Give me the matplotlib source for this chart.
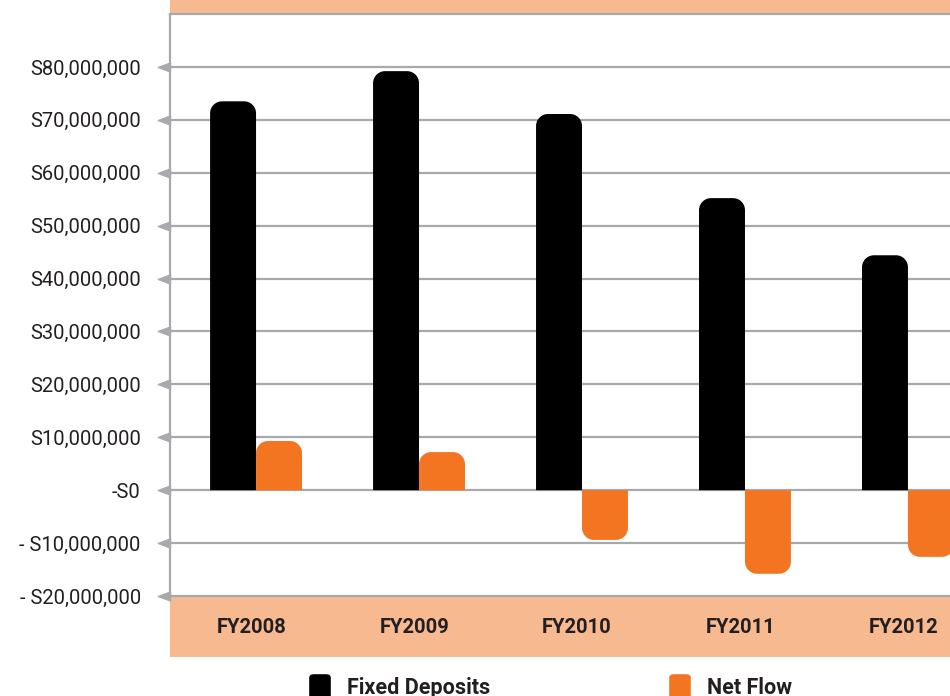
import numpy as np
import matplotlib
matplotlib.use("Agg")
import matplotlib.pyplot as plt
from matplotlib.path import Path
from matplotlib.patches import PathPatch, Rectangle, FancyBboxPatch
from matplotlib.transforms import blended_transform_factory

plt.rcParams['font.family'] = ['Roboto', 'DejaVu Sans']

# Data
years = ["FY2008", "FY2009", "FY2010", "FY2011", "FY2012"]
fixed_deposits = [73.5e6, 79.2e6, 71.1e6, 55.2e6, 44.4e6]
net_flow = [9.3e6, 7.2e6, -9.4e6, -15.8e6, -12.6e6]
ytick_values = [-20e6, -10e6, 0, 10e6, 20e6, 30e6, 40e6, 50e6, 60e6, 70e6, 80e6]
ytick_labels = ["- S20,000,000", "- S10,000,000", "-S0", "S10,000,000",
                "S20,000,000", "S30,000,000", "S40,000,000", "S50,000,000",
                "S60,000,000", "S70,000,000", "S80,000,000"]
series_names = ["Fixed Deposits", "Net Flow"]

BLACK = "#000000"
ORANGE = "#f47521"
PEACH = "#f7b990"
GRID = "#a7a9ac"
TEXT = "#231f20"

W, H = 950, 696
fig = plt.figure(figsize=(W / 100, H / 100), dpi=100)

ax_l, ax_r, ax_t, ax_b = 170, 950, 14, 596
ax = fig.add_axes([ax_l / W, 1 - ax_b / H, (ax_r - ax_l) / W, (ax_b - ax_t) / H])
ax.set_xlim(-0.528, 4.258)
ax.set_ylim(-20e6, 90e6)

for s in ["right", "bottom"]:
    ax.spines[s].set_visible(False)
ax.spines["left"].set_color(GRID)
ax.spines["left"].set_linewidth(1.6)
ax.spines["top"].set_color(GRID)
ax.spines["top"].set_linewidth(1.6)

# horizontal grid lines
for v in ytick_values:
    ax.axhline(v, color=GRID, lw=1.6, zorder=1, clip_on=False)

ax.set_yticks(ytick_values)
ax.set_yticklabels(ytick_labels, fontsize=14.5, color=TEXT)
ax.tick_params(axis="y", length=0, pad=21)

# triangular tick markers pointing left from the axis
tri = Path([(0, 0.375), (-1, 0), (0, -0.375), (0, 0.375)],
           [Path.MOVETO, Path.LINETO, Path.LINETO, Path.CLOSEPOLY])
btr = blended_transform_factory(ax.transAxes, ax.transData)
ax.plot([0] * len(ytick_values), ytick_values, linestyle="none", marker=tri,
        markersize=17.5, color=GRID, transform=btr, clip_on=False, zorder=5)

x = np.arange(len(years))
ax.set_xticks(x - 0.03)
ax.set_xticklabels(years, fontsize=14.5, fontweight="bold", color=TEXT)
ax.tick_params(axis="x", length=0, pad=16)

# peach bands above and below the plotting area
ax.add_patch(Rectangle((0, 1), 1, ax_t / (ax_b - ax_t), transform=ax.transAxes,
                       facecolor=PEACH, edgecolor="none", clip_on=False, zorder=0))
ax.add_patch(Rectangle((0, -61 / (ax_b - ax_t)), 1, 61 / (ax_b - ax_t) - 0.002,
                       transform=ax.transAxes, facecolor=PEACH, edgecolor="none",
                       clip_on=False, zorder=0))

# bars with rounded outer corners
width = 0.282
radius_px = 12
p0 = ax.transData.transform([(0, 0), (1, 1e7)])
px_x = p0[1, 0] - p0[0, 0]
px_y = (p0[1, 1] - p0[0, 1]) / 1e7
rx = radius_px / px_x
ry_base = radius_px / px_y
K = 0.5523


def rounded_bar(x0, w, v, color):
    x1 = x0 + w
    s = 1 if v >= 0 else -1
    ry = min(ry_base, abs(v))
    rrx = min(rx, w / 2)
    inner = v - s * ry
    ctrl = inner + s * K * ry
    verts = [(x0, 0), (x0, inner),
             (x0, ctrl), (x0 + rrx - K * rrx, v), (x0 + rrx, v),
             (x1 - rrx, v),
             (x1 - rrx + K * rrx, v), (x1, ctrl), (x1, inner),
             (x1, 0), (x0, 0)]
    codes = [Path.MOVETO, Path.LINETO,
             Path.CURVE4, Path.CURVE4, Path.CURVE4,
             Path.LINETO,
             Path.CURVE4, Path.CURVE4, Path.CURVE4,
             Path.LINETO, Path.CLOSEPOLY]
    ax.add_patch(PathPatch(Path(verts, codes), facecolor=color,
                           edgecolor="none", zorder=3))


for i in range(len(years)):
    rounded_bar(x[i] - width, width, fixed_deposits[i], BLACK)
    rounded_bar(x[i], width, net_flow[i], ORANGE)

# legend
for (lx, color, name) in [(310, BLACK, series_names[0]), (670, ORANGE, series_names[1])]:
    fig.patches.append(FancyBboxPatch(((lx + 3) / W, 1 - 699 / H), 14 / W, 22 / H,
                                      boxstyle="round,pad=0.004,rounding_size=0.005",
                                      transform=fig.transFigure, facecolor=color,
                                      edgecolor="none", figure=fig))
    fig.text((lx + 37) / W, 1 - 688 / H, name, fontsize=15.5, fontweight="bold",
             color=TEXT, va="center", ha="left")

fig.savefig("out.png", dpi=100)
